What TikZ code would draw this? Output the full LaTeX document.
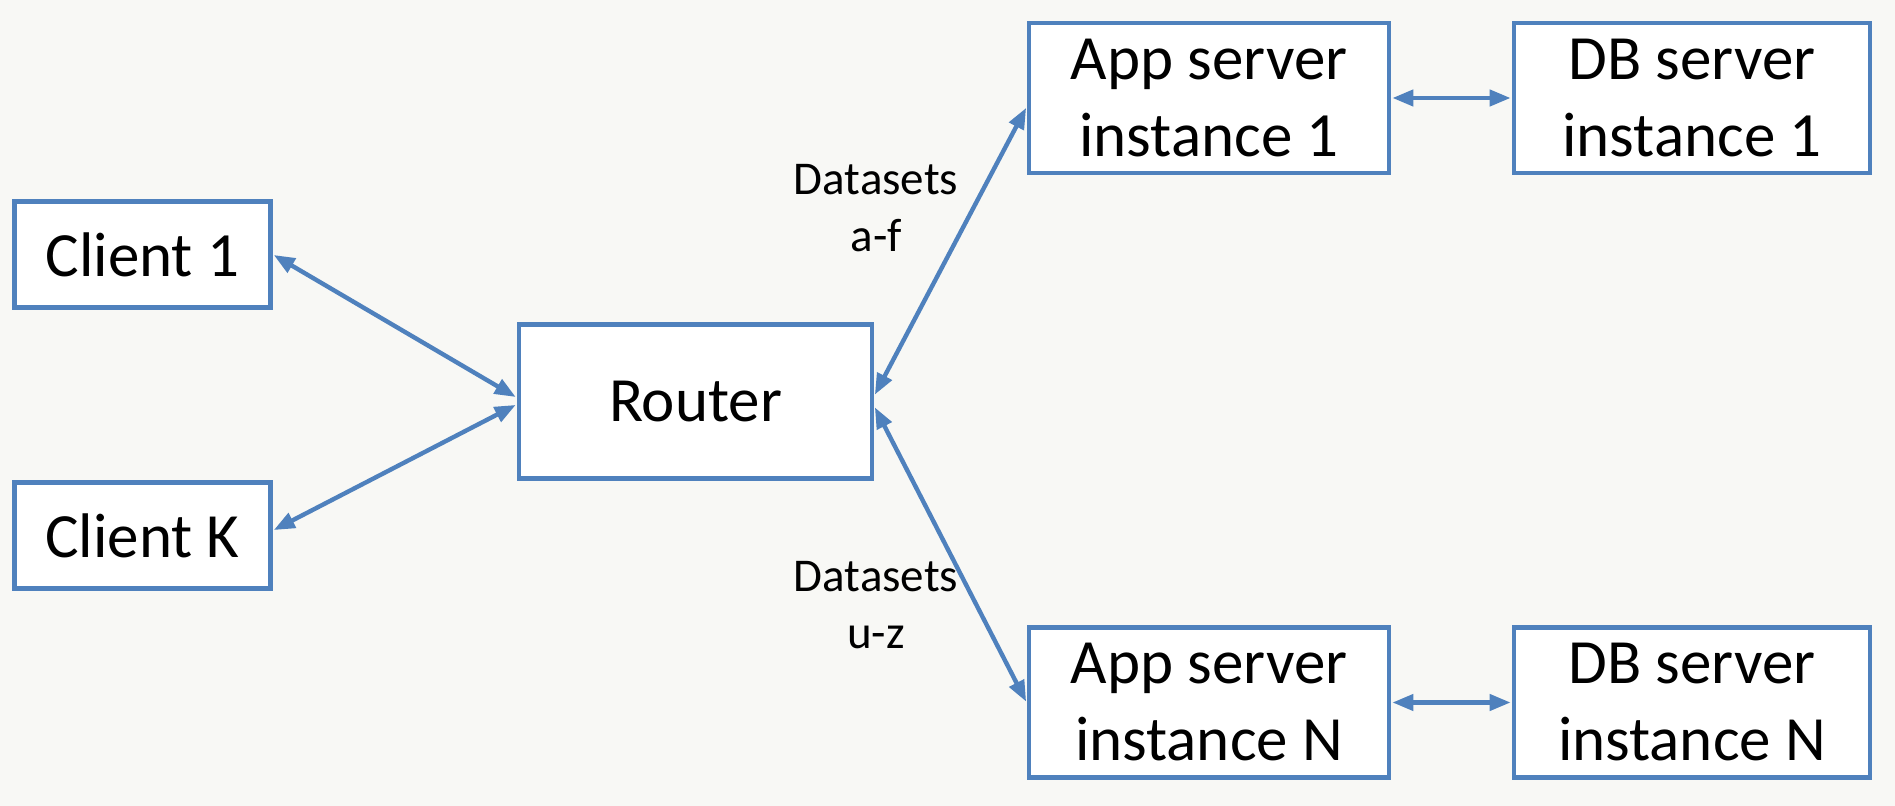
\documentclass[tikz,border=0pt]{standalone}
\usepackage{fontspec}
\setmainfont{Carlito}
\usepackage{tikz}
\usetikzlibrary{arrows.meta}
\definecolor{boxblue}{RGB}{79,129,189}
\definecolor{slidebg}{RGB}{248,248,245}
\tikzset{
  srvbox/.style={
    draw=boxblue,
    line width=2.4pt,
    fill=white,
    inner sep=0pt,
    align=center,
    font=\fontsize{31.5}{38.5}\selectfont},
  link/.style={
    {Triangle[length=10.5pt,width=8pt]}-{Triangle[length=10.5pt,width=8pt]},
    draw=boxblue,
    line width=2.2pt,
    shorten <=0.5pt,
    shorten >=0.5pt},
  dslabel/.style={
    align=center,
    font=\fontsize{23.5}{28.5}\selectfont},
  }

\begin{document}
\begin{tikzpicture}[x=0.5pt,y=-0.5pt]
            % Background
            \fill[slidebg] (0,0) rectangle (1895,806);
            \useasboundingbox (0,0) rectangle (1895,806);

            % Boxes
            \node[srvbox,minimum width=128pt,minimum height=53pt] (client1) at (142.5,254.5) {Client 1};
            \node[srvbox,minimum width=128pt,minimum height=53pt] (clientk) at (142.5,535.5) {Client K};
            \node[srvbox,minimum width=176.5pt,minimum height=77pt] (router) at (695.5,401.5) {Router};
            \node[srvbox,minimum width=180pt,minimum height=75pt] (app1) at (1209,98) {App server\\instance 1};
            \node[srvbox,minimum width=178pt,minimum height=75pt] (db1) at (1692,98) {DB server\\instance 1};
            \node[srvbox,minimum width=180pt,minimum height=75pt] (appn) at (1209,702.5) {App server\\instance N};
            \node[srvbox,minimum width=178pt,minimum height=75pt] (dbn) at (1692,702.5) {DB server\\instance N};

            % Labels
            \node[dslabel] (setsaf) at (876,208) {Datasets\\a-f};
            \node[dslabel] (setsuz) at (876,605) {Datasets\\u-z};

            % Arrows
            \draw[link] (client1.east) -- ([yshift=2pt]router.west);
            \draw[link] ([yshift=2.5pt]clientk.east) -- ([yshift=-1.5pt]router.west);
            \draw[link] ([yshift=3pt]router.east) -- ([yshift=-4.5pt]app1.west);
            \draw[link] ([yshift=-2.5pt]router.east) -- (appn.west);
            \draw[link] (app1.east) -- (db1.west);
            \draw[link] (appn.east) -- (dbn.west);
        \end{tikzpicture}
\end{document}
